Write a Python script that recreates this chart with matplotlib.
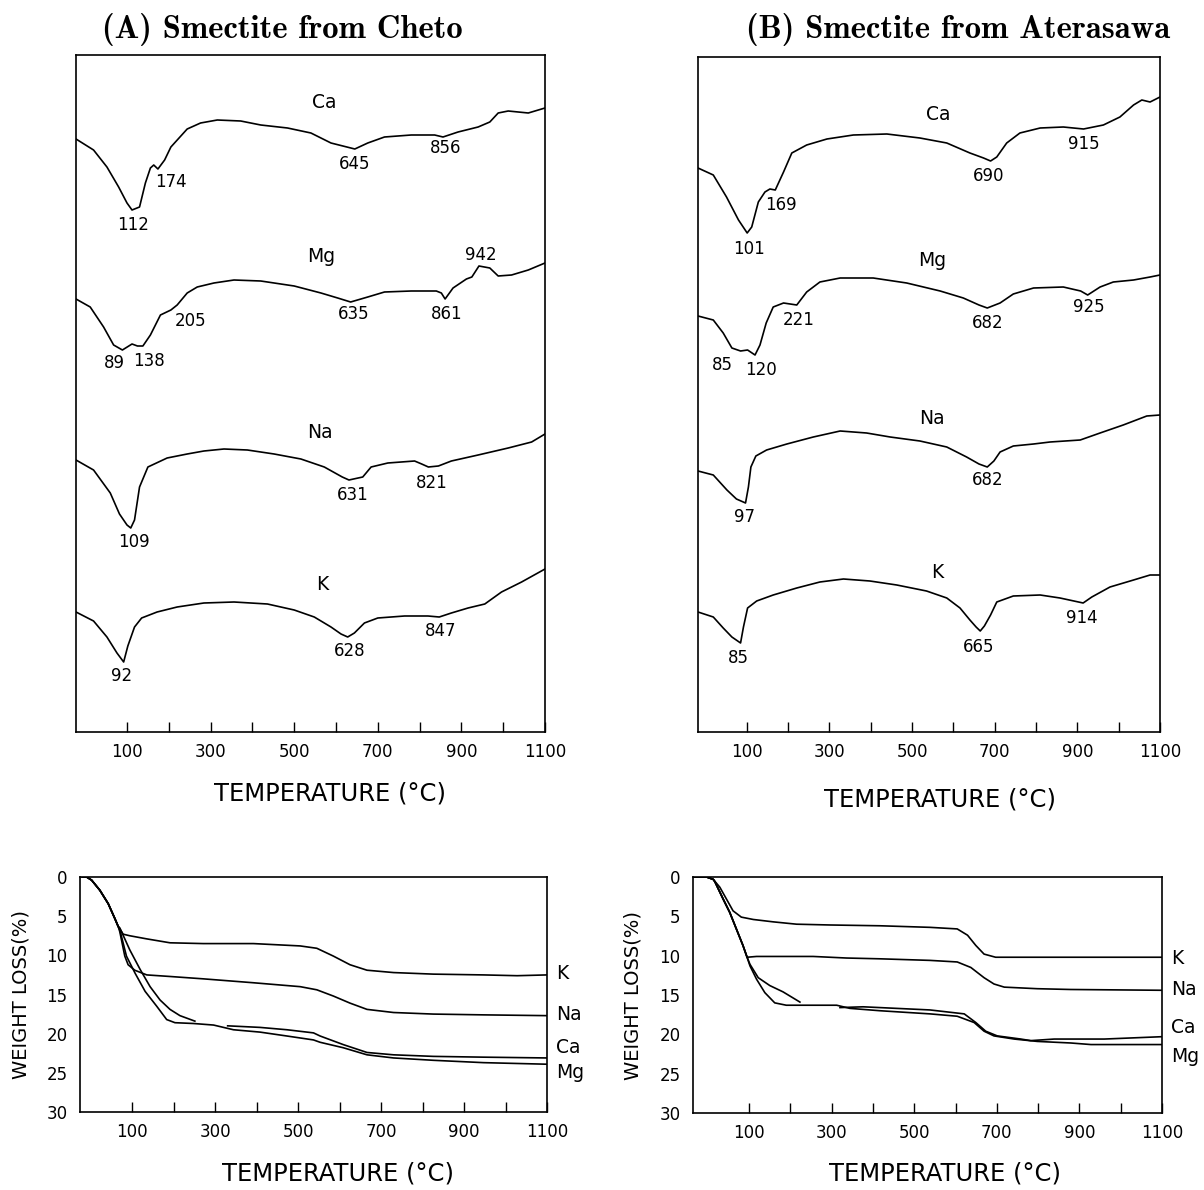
import numpy as np
import matplotlib
matplotlib.use("Agg")
import matplotlib.pyplot as plt

plt.rcParams['font.family'] = ['DejaVu Sans']

# ---- DTA traces (temperature in C, deflection in arbitrary units) ----
# (A) Cheto
a_ca_t = [-22, 20, 52, 80, 100, 112, 130, 144, 156, 164, 174, 190, 205, 244, 276, 316, 372, 420, 484, 540, 588, 645, 676, 716, 780, 836, 856, 892, 940, 968, 988, 1012, 1060, 1100]
a_ca_v = [593, 582, 565, 545, 529, 522, 525, 549, 564, 567, 563, 572, 585, 603, 609, 612, 611, 607, 604, 599, 589, 583, 589, 595, 597, 597, 595, 600, 605, 610, 619, 621, 619, 624]
a_mg_t = [-22, 12, 44, 68, 89, 112, 125, 138, 156, 180, 205, 220, 244, 268, 308, 356, 420, 500, 564, 604, 635, 676, 716, 780, 840, 852, 861, 880, 912, 925, 942, 968, 988, 1020, 1060, 1100]
a_mg_v = [433, 425, 405, 387, 382, 388, 386, 386, 397, 417, 422, 427, 439, 445, 449, 452, 451, 446, 439, 434, 430, 435, 440, 441, 441, 439, 433, 444, 453, 455, 466, 464, 456, 457, 462, 469]
a_na_t = [-22, 20, 60, 82, 100, 109, 118, 130, 150, 196, 244, 284, 332, 388, 452, 516, 572, 615, 631, 664, 684, 724, 788, 805, 821, 845, 876, 940, 1012, 1068, 1100]
a_na_v = [272, 262, 239, 218, 207, 204, 212, 245, 265, 274, 278, 281, 283, 282, 278, 273, 265, 255, 252, 255, 265, 269, 271, 268, 265, 266, 271, 277, 284, 290, 298]
a_k_t = [-22, 20, 52, 76, 92, 102, 118, 135, 172, 220, 284, 356, 436, 500, 548, 588, 612, 628, 644, 668, 700, 764, 820, 847, 876, 916, 956, 996, 1044, 1100]
a_k_v = [120, 111, 95, 79, 70, 86, 105, 114, 120, 125, 129, 130, 128, 122, 115, 105, 98, 95, 99, 109, 114, 116, 116, 115, 119, 124, 128, 140, 150, 163]

# (B) Aterasawa
b_ca_t = [-18, 19, 51, 80, 101, 112, 128, 144, 156, 169, 189, 209, 245, 294, 358, 439, 519, 584, 640, 673, 690, 705, 729, 761, 810, 866, 915, 963, 1003, 1036, 1056, 1076, 1100]
b_ca_v = [564, 557, 535, 512, 499, 505, 530, 540, 543, 542, 560, 579, 587, 593, 597, 598, 594, 589, 579, 574, 571, 575, 589, 599, 604, 605, 603, 607, 615, 627, 632, 630, 635]
b_mg_t = [-18, 19, 43, 64, 85, 102, 120, 132, 147, 164, 189, 221, 245, 277, 326, 406, 487, 568, 624, 662, 682, 713, 745, 794, 866, 908, 925, 955, 987, 1036, 1076, 1100]
b_mg_v = [416, 412, 399, 384, 381, 382, 377, 387, 409, 425, 429, 427, 440, 450, 454, 454, 449, 441, 434, 427, 424, 429, 438, 444, 445, 441, 437, 445, 450, 452, 455, 457]
b_na_t = [-18, 19, 52, 75, 97, 104, 110, 122, 148, 197, 261, 326, 390, 447, 519, 584, 632, 662, 682, 698, 713, 745, 794, 834, 907, 955, 1011, 1068, 1100]
b_na_v = [261, 257, 242, 233, 229, 245, 265, 276, 282, 288, 295, 301, 299, 295, 291, 285, 275, 268, 265, 271, 280, 286, 288, 290, 292, 299, 307, 316, 317]
b_k_t = [-18, 19, 43, 64, 85, 92, 102, 124, 164, 221, 277, 334, 398, 463, 535, 584, 616, 640, 655, 665, 675, 690, 705, 745, 810, 858, 914, 935, 979, 1036, 1076, 1100]
b_k_v = [120, 115, 104, 95, 89, 105, 124, 131, 137, 144, 150, 153, 151, 147, 141, 134, 124, 112, 105, 101, 106, 117, 130, 136, 137, 134, 129, 135, 145, 152, 157, 157]

# peak temperatures and where their numbers sit (x, y in data units)
a_peaks = [("112", 114, 507), ("174", 204, 550), ("645", 645, 568), ("856", 862, 584),
           ("89", 70, 369), ("138", 152, 371), ("205", 252, 411), ("635", 642, 418), ("861", 866, 418), ("942", 946, 477),
           ("109", 116, 190), ("631", 640, 237), ("821", 830, 249),
           ("92", 88, 56), ("628", 632, 81), ("847", 850, 101)]
b_peaks = [("101", 106, 483), ("169", 182, 527), ("690", 685, 556), ("915", 915, 588),
           ("85", 41, 367), ("120", 135, 362), ("221", 225, 412), ("682", 682, 409), ("925", 927, 425),
           ("97", 95, 215), ("682", 682, 252),
           ("85", 80, 74), ("665", 660, 85), ("914", 912, 114)]
a_names = [("Ca", 572, 629), ("Mg", 564, 475), ("Na", 562, 300), ("K", 568, 147)]
b_names = [("Ca", 564, 617), ("Mg", 549, 472), ("Na", 548, 314), ("K", 562, 159)]

# ---- TG traces (temperature in C, weight loss in %) ----
ta_k_t = [-20, -10, 2, 22, 42, 58, 66, 78, 94, 135, 191, 271, 392, 505, 545, 585, 625, 666, 730, 826, 947, 1028, 1100]
ta_k_w = [0, 0, 0.4, 1.7, 3.4, 5.3, 6.3, 7.3, 7.5, 7.9, 8.4, 8.5, 8.5, 8.8, 9.1, 10.1, 11.2, 11.9, 12.2, 12.4, 12.5, 12.6, 12.5]
ta_na_t = [-20, -10, 2, 22, 42, 58, 66, 70, 82, 90, 106, 135, 191, 271, 392, 505, 545, 585, 625, 666, 730, 826, 947, 1100]
ta_na_w = [0, 0, 0.4, 1.7, 3.4, 5.3, 6.3, 7.0, 10.1, 11.2, 11.9, 12.5, 12.7, 13.0, 13.5, 14.0, 14.4, 15.2, 16.1, 16.9, 17.3, 17.5, 17.6, 17.7]
ta_ca_t = [-20, -10, 2, 22, 42, 58, 66, 70, 94, 119, 143, 167, 191, 215, 251, np.nan, 330, 408, 473, 537, 553, 609, 666, 730, 826, 947, 1100]
ta_ca_w = [0, 0, 0.4, 1.7, 3.4, 5.3, 6.3, 6.5, 9.3, 11.8, 14.0, 15.7, 16.9, 17.7, 18.4, np.nan, 19.0, 19.2, 19.5, 19.9, 20.3, 21.4, 22.4, 22.7, 22.9, 23.0, 23.1]
ta_mg_t = [-20, -10, 2, 22, 42, 58, 66, 70, 86, 107, 131, 159, 183, 203, 247, 296, 344, 408, 473, 537, 553, 609, 666, 730, 826, 947, 1100]
ta_mg_w = [0, 0, 0.4, 1.7, 3.4, 5.3, 6.3, 6.75, 10.1, 12.3, 14.6, 16.5, 18.2, 18.6, 18.7, 18.9, 19.5, 19.8, 20.3, 20.8, 21.1, 21.8, 22.7, 23.1, 23.4, 23.7, 23.9]

tb_k_t = [-32, -3, 13, 29, 45, 61, 81, 110, 158, 215, 296, 417, 538, 604, 629, 649, 669, 697, 734, 839, 960, 1100]
tb_k_w = [0, 0, 0.3, 1.3, 2.8, 4.3, 5.1, 5.4, 5.7, 6.0, 6.1, 6.2, 6.4, 6.6, 7.4, 8.7, 9.8, 10.2, 10.2, 10.2, 10.2, 10.2]
tb_na_t = [-32, -3, 13, 17, 37, 53, 69, 85, 95, 118, 174, 255, 336, 417, 538, 604, 637, 669, 693, 718, 798, 879, 1100]
tb_na_w = [0, 0, 0.3, 0.6, 2.8, 4.5, 6.6, 8.7, 10.2, 10.1, 10.1, 10.1, 10.3, 10.4, 10.6, 10.8, 11.5, 12.8, 13.6, 14.0, 14.2, 14.3, 14.4]
tb_ca_t = [-32, -3, 13, 17, 37, 53, 69, 85, 95, 102, 122, 150, 182, 223, np.nan, 320, 376, 457, 538, 621, 649, 673, 701, 758, 782, 839, 960, 1100]
tb_ca_w = [0, 0, 0.3, 0.6, 2.8, 4.5, 6.6, 8.7, 10.2, 11.1, 12.8, 13.8, 14.6, 15.9, np.nan, 16.6, 16.5, 16.7, 16.9, 17.4, 18.5, 19.6, 20.2, 20.6, 20.8, 20.6, 20.6, 20.3]
tb_mg_t = [-32, -3, 13, 17, 37, 53, 69, 85, 95, 102, 118, 138, 162, 190, 255, 312, 344, 417, 538, 604, 645, 669, 693, 742, 798, 879, 928, 1100]
tb_mg_w = [0, 0, 0.3, 0.6, 2.8, 4.5, 6.6, 8.7, 10.2, 11.3, 13.0, 14.7, 16.0, 16.3, 16.3, 16.3, 16.7, 17.0, 17.4, 17.7, 18.5, 19.6, 20.2, 20.6, 20.9, 21.1, 21.3, 21.3]

ta_names = [("K", 12.3), ("Na", 17.5), ("Ca", 21.8), ("Mg", 25.0)]
tb_names = [("K", 10.3), ("Na", 14.3), ("Ca", 19.1), ("Mg", 22.8)]

W, H = 1204, 1190
fig = plt.figure(figsize=(W / 100, H / 100), dpi=100)


def box(l, t, r, b):
    return [l / W, 1 - b / H, (r - l) / W, (b - t) / H]


def temp_axis(ax, xmin):
    ax.set_xlim(xmin, 1100)
    ax.set_xticks([100, 300, 500, 700, 900, 1100])
    ax.set_xticks([200, 400, 600, 800, 1000], minor=True)
    ax.tick_params(axis='x', which='both', direction='in', length=7, width=1.0,
                   labelsize=12, pad=8, top=False)
    for s in ax.spines.values():
        s.set_linewidth(1.2)


lw = 1.2
dta_a = fig.add_axes(box(76, 55, 545, 732))
dta_b = fig.add_axes(box(698, 57, 1160, 732))
for ax, xmin, top, curves, peaks, names in [
        (dta_a, -22, 677, [(a_ca_t, a_ca_v), (a_mg_t, a_mg_v), (a_na_t, a_na_v), (a_k_t, a_k_v)], a_peaks, a_names),
        (dta_b, -18, 675, [(b_ca_t, b_ca_v), (b_mg_t, b_mg_v), (b_na_t, b_na_v), (b_k_t, b_k_v)], b_peaks, b_names)]:
    for t, v in curves:
        ax.plot(t, v, color='black', lw=lw)
    for lab, x, y in peaks:
        ax.text(x, y, lab, ha='center', va='center', fontsize=12)
    for lab, x, y in names:
        ax.text(x, y, lab, ha='center', va='center', fontsize=13.5)
    temp_axis(ax, xmin)
    ax.set_ylim(0, top)
    ax.set_yticks([])

tg_a = fig.add_axes(box(80, 877, 547, 1112))
tg_b = fig.add_axes(box(693, 877, 1162, 1113))
for ax, xmin, curves, names in [
        (tg_a, -26, [(ta_k_t, ta_k_w), (ta_na_t, ta_na_w), (ta_ca_t, ta_ca_w), (ta_mg_t, ta_mg_w)], ta_names),
        (tg_b, -36, [(tb_k_t, tb_k_w), (tb_na_t, tb_na_w), (tb_ca_t, tb_ca_w), (tb_mg_t, tb_mg_w)], tb_names)]:
    for t, w in curves:
        ax.plot(t, w, color='black', lw=lw)
    for lab, y in names:
        ax.text(1122, y, lab, ha='left', va='center', fontsize=13.5)
    temp_axis(ax, xmin)
    ax.set_ylim(30, 0)
    ax.set_yticks([0, 5, 10, 15, 20, 25, 30])
    ax.tick_params(axis='y', length=0, labelsize=12, pad=9)
    ax.set_ylabel("WEIGHT LOSS(%)", fontsize=14)
    ax.yaxis.set_label_coords(-0.107, 0.5)

# axis captions
for x, y in [(330, 793), (940, 800), (338, 1173), (945, 1173)]:
    fig.text(x / W, 1 - y / H, "TEMPERATURE (°C)", ha='center', va='center', fontsize=17.5)

fig.text(282 / W, 1 - 30 / H, "(A) Smectite from Cheto", ha='center', va='center',
         fontsize=23.5, family='cmb10')
fig.text(958 / W, 1 - 30 / H, "(B) Smectite from Aterasawa", ha='center', va='center',
         fontsize=23.5, family='cmb10')

fig.savefig("out.png", dpi=100)
